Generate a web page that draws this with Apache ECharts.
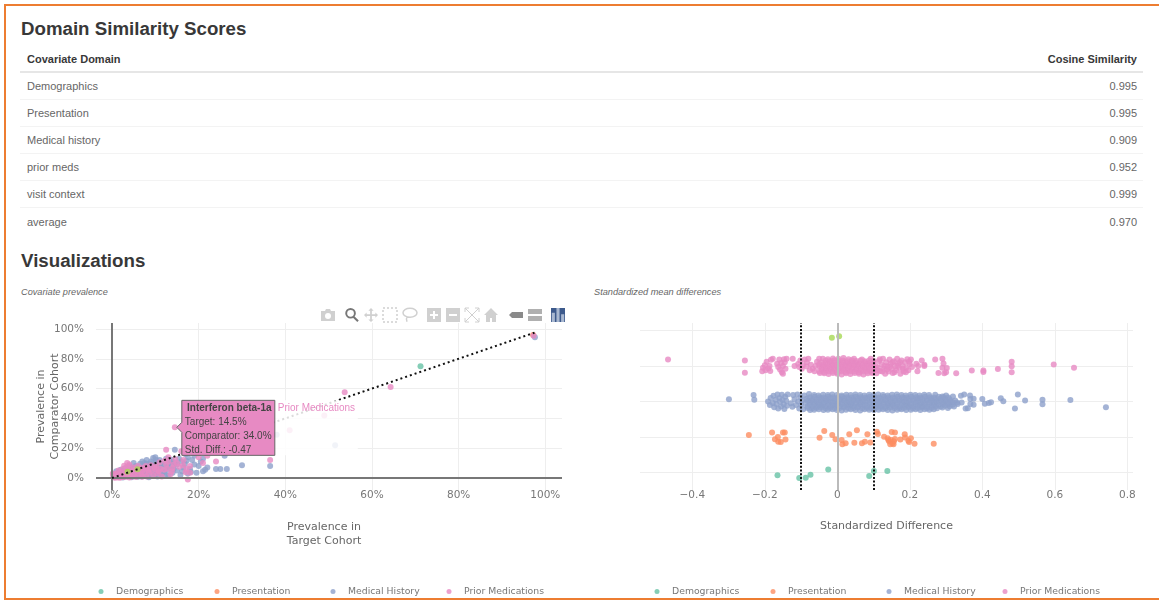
<!DOCTYPE html>
<html>
<head>
<meta charset="utf-8">
<title>Domain Similarity Scores</title>
<script src="https://cdn.jsdelivr.net/npm/echarts@6/dist/echarts.min.js"></script>
<style>
  html, body { margin: 0; padding: 0; width: 1159px; height: 602px; overflow: hidden; background: #fff; font-family: "Liberation Sans", Arial, sans-serif; }
  #frame { position: absolute; left: 4px; top: 4px; width: 1200px; height: 592px; border: 2px solid #ed7d31; }
  h2 { position: absolute; left: 21px; margin: 0; font-size: 18.7px; line-height: 24px; font-weight: bold; color: #383838; }
  #scoreTable { position: absolute; left: 20px; top: 46px; width: 1123px; border-collapse: collapse; font-size: 11px; color: #666; }
  #scoreTable th { height: 25px; padding: 0 6px 0 7px; color: #383838; border-bottom: 2px solid #e6e6e6; }
  #scoreTable td { height: 26.1px; padding: 0 6px 0 7px; border-bottom: 1px solid #f3f3f3; }
  #scoreTable tr:last-child td { border-bottom: 0; }
  .left { text-align: left; }
  .right { text-align: right; }
  .sub { position: absolute; top: 287px; font-size: 9.2px; line-height: 11px; font-style: italic; color: #666; }
  #main { position: absolute; left: 0; top: 0; width: 1159px; height: 602px; }
</style>
</head>
<body>
<div id="frame"></div>
<h2 style="top: 17px">Domain Similarity Scores</h2>
<table id="scoreTable"></table>
<h2 style="top: 249px">Visualizations</h2>
<div class="sub" style="left: 21px">Covariate prevalence</div>
<div class="sub" style="left: 594px">Standardized mean differences</div>
<div id="main"></div>

<script>
const domains = ["Demographics", "Presentation", "Medical history", "prior meds", "visit context", "average"];
const cosineScores = ["0.995", "0.995", "0.909", "0.952", "0.999", "0.970"];
const legendNames = ["Demographics", "Presentation", "Medical History", "Prior Medications"];

const prevalenceTicks = [0, 20, 40, 60, 80, 100];
const smdTicks = [-0.4, -0.2, 0, 0.2, 0.4, 0.6, 0.8];
const smdRows = [0, 1, 2, 3, 4];
const smdThresholds = [-0.1, 0.1];

// hovered covariate: target %, comparator %
const hoverPoint = [14.5, 34.0];
const hoverText = ["Interferon beta-1a", "Target: 14.5%", "Comparator: 34.0%", "Std. Diff.: -0.47"];

// left plot, [target %, comparator %]
const diagonalLine = [[0, 0], [97.5, 97.5]];
const prevDemographics = [[71.2, 75], [1, 1.2], [2.5, 1.5], [4.5, 3], [6.5, 7]];
const prevPresentation = [[1.5, 0.8], [2.5, 2], [3.5, 3.5], [5, 3.2], [6, 5], [7.5, 6], [9, 7.5], [11, 8], [97.2, 96]];
const prevVisit = [[3.6, 4.2], [5.9, 5.8]];
const prevMedical = [
  [97.6, 94.5], [51.5, 22], [38, 29], [36.5, 8], [30, 8.5], [26.5, 6], [26, 15], [25, 6], [24, 6], [23, 18],
  [22, 7], [21.5, 5.5], [21, 4.5], [20.5, 11], [20, 17], [19.5, 3.5], [19, 15], [19, 9], [18.5, 12], [18, 6],
  [17.5, 14], [17.5, 3], [17, 16], [16.5, 7], [16, 11], [15.5, 13], [15, 5], [14.5, 19], [14, 8], [14, 3.5],
  [13.5, 11], [13, 6], [13, 1.5], [12.5, 13], [12, 9], [12, 4], [11.5, 2], [11, 12], [11, 7], [10.5, 1],
  [10.5, 4.5], [10, 14], [10, 10], [9.5, 13.5], [9.5, 6], [9, 2.5], [9, 11], [8.5, 8], [8.5, 0.5], [8, 12],
  [8, 4], [7.5, 10], [7.5, 1.5], [7, 7], [7, 11], [6.5, 3], [6.5, 9.5], [6, 0.8], [6, 5.5], [5.5, 8],
  [5.5, 2], [5, 10], [5, 4.5], [4.5, 6.5], [4.5, 0.5], [4, 8], [4, 2.5], [3.5, 5], [3.5, 1], [3, 6.5],
  [3, 3], [2.5, 0.4], [2.5, 4.5], [2, 5.5], [2, 2], [1.5, 0.6], [1.5, 3.5], [1, 4.5], [1, 1.8], [0.6, 0.5],
  [0.5, 2.5], [11.5, 9.5], [12.8, 7.5], [9.8, 3.5], [8.2, 6], [15.8, 2], [14.5, 10.5], [6.8, 1], [7.8, 8.8], [10.8, 5.5],
  [18.2, 4], [20, 8], [21, 13], [16.8, 9.5], [13.7, 12.3], [5.2, 7], [3.8, 3.8], [4.8, 1.5], [2.2, 3.2], [8.8, 9.8],
  [13.2, 10], [12.2, 6.5], [10.2, 12], [9.2, 8.8], [8, 9.5], [7.2, 5.2], [6.2, 7.5], [5.2, 3.2], [4.2, 5.2], [3.2, 1.8],
  [6, 2.2], [7.4, 3.2], [8.8, 4.8], [10, 2], [11.2, 3.2], [12.5, 2.5], [14.2, 6], [15, 9], [16.2, 4.5], [17.2, 11.5]
];
const prevPrior = [
  [97.3, 95.5], [64.3, 61], [53.7, 57.5], [49, 42], [41, 32], [36.5, 12], [24, 11], [22, 15], [21, 10], [20, 14],
  [19, 18], [18, 8], [18, 3.5], [17.5, -1], [17, 3.8], [16.5, 12], [16, 18], [15, 10], [14.5, 34], [14, 6.5],
  [13.5, 2.5], [13, 14], [12.5, 19], [12.5, 9], [12, 5.5], [11.5, 1], [11, 10.5], [10.5, 3], [10, 6], [9.5, 1.8],
  [9, 8.5], [8.5, 3.5], [8, 1], [8, 6.5], [7.5, 3.5], [7, 5], [7, 0.8], [6.5, 6.5], [6, 3], [6, 8],
  [5.5, 0.6], [5.5, 4.5], [5, 2], [5, 7], [4.5, 4.2], [4.5, 1], [4, 6], [4, 9], [4, 0.4], [3.8, 3],
  [3.5, 10], [3.5, 7.5], [3.2, 1.8], [3, 4.5], [3, 0.6], [2.8, 8.2], [2.5, 2.8], [2.5, 6], [2, 0.5], [2, 4],
  [1.8, 1.6], [1.5, 5], [1.5, 2.6], [1.2, 0.4], [1, 3], [1, 1], [0.7, 2.2], [0.5, 0.3], [0.3, 1.5], [0.2, 3],
  [15.5, 7.5], [13.8, 4.5], [12.2, 11.5], [10.2, 8], [9.2, 4.8], [7.8, 8], [6.8, 2], [11.2, 6.2], [14.6, 12.5], [17.2, 6],
  [1.8, 0.2], [2.6, 0.8], [3.4, 3], [4.2, 2], [5.2, 5.5], [6.2, 4.5], [7.2, 6.8], [8.4, 5.2], [9.8, 7], [10.8, 4.5],
  [12.8, 6.2], [14.2, 9], [0.8, 0.4], [1.4, 1.4], [2.2, 1.2], [2.9, 3.6], [3.6, 2.2], [0.4, 0.8], [16.4, 8.5], [13, 11]
];

// right plot, [std. difference, row + jitter]
const smdVisit = [[-0.015, 3.79], [0.005, 3.83]];
const smdDemographics = [
  [-0.165, -0.07], [-0.105, -0.15], [-0.087, -0.14], [-0.074, -0.06], [-0.025, 0.09], [0.088, -0.09], [0.101, 0.05], [0.138, 0.05]
];
const smdPresentation = [
  [-0.244, 1.06], [-0.18, 1.13], [-0.172, 0.94], [-0.164, 1.0], [-0.163, 0.87], [-0.156, 0.86], [-0.15, 1.13], [-0.145, 1.13],
  [-0.143, 0.93], [-0.049, 0.98], [-0.036, 1.17], [-0.014, 1.06], [-0.005, 0.94], [0.012, 0.92], [0.014, 0.8], [0.023, 0.83],
  [0.033, 1.08], [0.047, 0.84], [0.054, 1.19], [0.068, 0.83], [0.076, 0.87], [0.083, 1.08], [0.091, 0.85], [0.109, 1.15],
  [0.112, 1.09], [0.129, 1.01], [0.141, 0.92], [0.15, 1.14], [0.159, 1.13], [0.139, 0.97], [0.143, 0.88], [0.148, 0.92],
  [0.152, 0.83], [0.156, 0.88], [0.159, 0.95], [0.155, 0.8], [0.146, 0.8], [0.174, 0.93], [0.186, 1.08], [0.187, 0.99],
  [0.196, 0.9], [0.198, 0.86], [0.203, 0.97], [0.213, 0.81], [0.266, 0.81]
];
const smdMedical = [
  [-0.299, 2.06], [-0.231, 2.18], [-0.229, 2.05], [0.319, 2.14], [0.341, 2.16], [0.35, 2.2], [0.343, 1.97], [0.366, 2.17],
  [0.367, 2.07], [0.376, 2.08], [0.367, 1.93], [0.376, 1.91], [0.354, 1.8], [0.36, 1.81], [0.4, 2.07], [0.407, 1.94],
  [0.418, 1.96], [0.424, 1.98], [0.451, 2.09], [0.458, 2.01], [0.498, 2.2], [0.49, 1.8], [0.518, 2.03], [0.566, 2.05],
  [0.566, 1.92], [0.643, 2.04], [0.741, 1.84],
  [-0.191, 2.0], [-0.186, 1.9], [-0.184, 2.1], [-0.178, 1.96], [-0.176, 2.16], [-0.174, 1.84], [-0.17, 2.05], [-0.168, 1.93],
  [-0.165, 2.2], [-0.163, 1.8], [-0.16, 2.1], [-0.158, 1.99], [-0.155, 1.86], [-0.153, 2.19], [-0.151, 2.04], [-0.148, 1.92],
  [-0.146, 1.79], [-0.144, 2.13], [-0.141, 2.02], [-0.139, 1.88], [-0.137, 2.2], [-0.128, 1.95], [-0.124, 1.85], [-0.122, 2.18],
  [-0.118, 2.06], [-0.114, 1.9], [-0.11, 2.2], [-0.108, 2.0], [-0.105, 1.8], [-0.102, 2.12], [-0.1, 1.9], [-0.097, 2.03],
  [-0.094, 1.78], [-0.091, 2.17], [-0.088, 1.96], [-0.085, 2.08], [-0.083, 1.86], [-0.078, 2.21],
  [-0.075, 1.76], [-0.064, 1.77], [-0.051, 1.78], [-0.038, 1.76], [-0.026, 1.77], [-0.013, 1.78], [-0.001, 1.76], [0.012, 1.75],
  [0.024, 1.77], [0.037, 1.78], [0.05, 1.76], [0.063, 1.75], [0.075, 1.78], [0.088, 1.77], [0.101, 1.76], [0.114, 1.77],
  [0.126, 1.78], [0.139, 1.76], [0.152, 1.75], [0.165, 1.77], [0.177, 1.78], [0.19, 1.76], [0.203, 1.77], [0.216, 1.78],
  [0.229, 1.76], [0.241, 1.78], [0.254, 1.77], [0.266, 1.78],
  [-0.07, 1.87], [-0.057, 1.86], [-0.044, 1.88], [-0.032, 1.87], [-0.019, 1.86], [-0.006, 1.88], [0.006, 1.87], [0.019, 1.86],
  [0.031, 1.89], [0.044, 1.87], [0.057, 1.86], [0.069, 1.88], [0.082, 1.87], [0.095, 1.86], [0.107, 1.88], [0.12, 1.87],
  [0.133, 1.86], [0.145, 1.89], [0.158, 1.87], [0.171, 1.86], [0.184, 1.88], [0.196, 1.87], [0.209, 1.86], [0.222, 1.88],
  [0.234, 1.87], [0.247, 1.86], [0.26, 1.88], [0.272, 1.87], [0.285, 1.86], [0.297, 1.88], [0.31, 1.87], [0.322, 1.86],
  [-0.076, 1.97], [-0.063, 1.98], [-0.05, 1.96], [-0.038, 1.97], [-0.025, 1.99], [-0.012, 1.97], [0.001, 1.96], [0.013, 1.98],
  [0.026, 1.97], [0.039, 1.96], [0.051, 1.98], [0.064, 1.97], [0.077, 1.99], [0.09, 1.97], [0.102, 1.96], [0.115, 1.98],
  [0.128, 1.97], [0.14, 1.96], [0.153, 1.98], [0.166, 1.97], [0.179, 1.99], [0.191, 1.97], [0.204, 1.96], [0.217, 1.98],
  [0.229, 1.97], [0.242, 1.96], [0.255, 1.98], [0.267, 1.97], [0.28, 1.99], [0.293, 1.97], [0.305, 1.96], [0.318, 1.98], [0.33, 1.97],
  [-0.07, 2.07], [-0.057, 2.06], [-0.044, 2.08], [-0.032, 2.07], [-0.019, 2.09], [-0.006, 2.07], [0.006, 2.06], [0.019, 2.08],
  [0.031, 2.07], [0.044, 2.06], [0.057, 2.08], [0.069, 2.07], [0.082, 2.09], [0.095, 2.07], [0.107, 2.06], [0.12, 2.08],
  [0.133, 2.07], [0.145, 2.06], [0.158, 2.08], [0.171, 2.07], [0.184, 2.09], [0.196, 2.07], [0.209, 2.06], [0.222, 2.08],
  [0.234, 2.07], [0.247, 2.06], [0.26, 2.08], [0.272, 2.07], [0.285, 2.09], [0.297, 2.07], [0.31, 2.06],
  [-0.064, 2.18], [-0.052, 2.17], [-0.039, 2.19], [-0.026, 2.18], [-0.014, 2.2], [-0.001, 2.18], [0.012, 2.17], [0.025, 2.19],
  [0.037, 2.18], [0.05, 2.2], [0.063, 2.18], [0.075, 2.17], [0.088, 2.19], [0.1, 2.18], [0.113, 2.2], [0.126, 2.18],
  [0.139, 2.17], [0.151, 2.19], [0.164, 2.2], [0.177, 2.18], [0.189, 2.17], [0.202, 2.19], [0.215, 2.18], [0.227, 2.17],
  [0.24, 2.19], [0.253, 2.18], [0.27, 2.19], [0.29, 2.14], [0.3, 2.17],
  [-0.082, 1.82], [-0.07, 1.81], [-0.058, 1.82], [-0.045, 1.83], [-0.032, 1.81], [-0.02, 1.82], [-0.007, 1.81], [0.006, 1.82],
  [0.018, 1.83], [0.031, 1.81], [0.044, 1.82], [0.056, 1.83], [0.069, 1.81], [0.082, 1.82], [0.094, 1.81], [0.107, 1.83],
  [0.12, 1.82], [0.133, 1.81], [0.145, 1.83], [0.158, 1.82], [0.171, 1.81], [0.183, 1.82], [0.196, 1.83], [0.209, 1.81],
  [0.222, 1.82], [0.234, 1.83], [0.247, 1.81], [0.26, 1.82], [0.275, 1.81], [0.29, 1.83], [0.305, 1.82],
  [-0.076, 1.92], [-0.063, 1.93], [-0.05, 1.91], [-0.038, 1.92], [-0.025, 1.93], [-0.012, 1.91], [0.0, 1.92], [0.013, 1.93],
  [0.026, 1.91], [0.038, 1.92], [0.051, 1.93], [0.064, 1.92], [0.076, 1.91], [0.089, 1.93], [0.102, 1.92], [0.115, 1.91],
  [0.127, 1.93], [0.14, 1.92], [0.153, 1.91], [0.165, 1.92], [0.178, 1.93], [0.191, 1.91], [0.203, 1.92], [0.216, 1.93],
  [0.229, 1.91], [0.241, 1.92], [0.254, 1.93], [0.267, 1.92], [0.279, 1.91], [0.292, 1.93], [0.305, 1.92], [0.318, 1.91], [0.332, 1.93],
  [-0.082, 2.02], [-0.07, 2.03], [-0.057, 2.01], [-0.044, 2.02], [-0.031, 2.03], [-0.019, 2.01], [-0.006, 2.02], [0.007, 2.03],
  [0.019, 2.02], [0.032, 2.01], [0.045, 2.03], [0.058, 2.02], [0.07, 2.01], [0.083, 2.02], [0.096, 2.03], [0.108, 2.01],
  [0.121, 2.02], [0.134, 2.03], [0.147, 2.01], [0.159, 2.02], [0.172, 2.03], [0.185, 2.01], [0.197, 2.02], [0.21, 2.03],
  [0.223, 2.02], [0.236, 2.01], [0.248, 2.03], [0.261, 2.02], [0.274, 2.01], [0.286, 2.03], [0.299, 2.02], [0.312, 2.01], [0.325, 2.03],
  [-0.076, 2.12], [-0.063, 2.13], [-0.05, 2.12], [-0.038, 2.11], [-0.025, 2.13], [-0.012, 2.12], [0.001, 2.11], [0.013, 2.13],
  [0.026, 2.12], [0.039, 2.11], [0.051, 2.13], [0.064, 2.12], [0.077, 2.11], [0.09, 2.13], [0.102, 2.12], [0.115, 2.11],
  [0.128, 2.13], [0.14, 2.12], [0.153, 2.11], [0.166, 2.13], [0.179, 2.12], [0.191, 2.11], [0.204, 2.13], [0.217, 2.12],
  [0.229, 2.11], [0.242, 2.13], [0.255, 2.12], [0.267, 2.11], [0.28, 2.13], [0.293, 2.12], [0.306, 2.11]
];
const smdPrior = [
  [-0.467, 3.18], [-0.255, 3.15], [-0.255, 2.81], [0.328, 2.79], [0.371, 2.87], [0.403, 2.87], [0.403, 2.83], [0.443, 2.91],
  [0.481, 3.12], [0.481, 2.99], [0.481, 2.82], [0.597, 3.04], [0.653, 2.95],
  [-0.207, 2.85], [-0.205, 2.95], [-0.2, 3.02], [-0.198, 2.88], [-0.195, 3.12], [-0.19, 2.93], [-0.187, 3.0], [-0.185, 2.86],
  [-0.183, 3.17], [-0.178, 3.2], [-0.166, 3.06], [-0.163, 2.97], [-0.16, 3.18], [-0.158, 2.9], [-0.155, 3.08], [-0.153, 2.82],
  [-0.15, 3.0], [-0.15, 2.78], [-0.147, 3.19], [-0.145, 3.1], [-0.143, 2.92], [-0.14, 3.2], [-0.123, 3.2], [-0.108, 3.05],
  [-0.105, 2.97], [-0.102, 3.15], [-0.098, 2.92], [-0.095, 3.02], [-0.09, 3.18], [-0.085, 2.98], [-0.084, 3.1], [-0.08, 3.2],
  [-0.073, 3.03], [-0.068, 2.92], [-0.063, 2.85], [-0.06, 3.0], [-0.056, 3.12], [-0.05, 3.2],
  [-0.048, 2.8], [-0.036, 2.79], [-0.024, 2.77], [-0.012, 2.8], [0.0, 2.78], [0.012, 2.76], [0.024, 2.79], [0.036, 2.77],
  [0.048, 2.8], [0.06, 2.78], [0.072, 2.76], [0.084, 2.79], [0.096, 2.8],
  [-0.043, 2.9], [-0.031, 2.88], [-0.019, 2.91], [-0.007, 2.89], [0.005, 2.87], [0.017, 2.9], [0.029, 2.88], [0.041, 2.92],
  [0.053, 2.89], [0.065, 2.87], [0.077, 2.9], [0.089, 2.88], [0.101, 2.91],
  [-0.05, 2.99], [-0.038, 3.0], [-0.026, 2.98], [-0.014, 3.01], [-0.002, 2.99], [0.01, 2.97], [0.022, 3.0], [0.034, 2.98],
  [0.046, 3.01], [0.058, 2.99], [0.07, 2.97], [0.082, 3.0], [0.094, 2.98],
  [-0.044, 3.1], [-0.032, 3.08], [-0.02, 3.11], [-0.008, 3.09], [0.004, 3.07], [0.016, 3.1], [0.028, 3.08], [0.04, 3.11],
  [0.052, 3.09], [0.064, 3.07], [0.076, 3.1], [0.088, 3.08], [0.1, 3.1],
  [-0.04, 3.2], [-0.026, 3.19], [-0.012, 3.21], [0.003, 3.2], [0.017, 3.22], [0.031, 3.19], [0.046, 3.2], [0.068, 3.18], [0.092, 3.2],
  [0.108, 2.79], [0.112, 2.95], [0.115, 3.14], [0.118, 2.86], [0.122, 3.04], [0.126, 3.2], [0.128, 2.92], [0.132, 2.78],
  [0.135, 3.1], [0.138, 2.99], [0.141, 2.84], [0.144, 3.18], [0.147, 3.05], [0.15, 2.92], [0.153, 2.8], [0.156, 3.13],
  [0.159, 3.0], [0.162, 2.88], [0.165, 3.2], [0.168, 3.07], [0.171, 2.94], [0.174, 2.78], [0.177, 3.15], [0.18, 3.0],
  [0.183, 2.84], [0.187, 3.1], [0.19, 2.95], [0.193, 3.19], [0.196, 2.88], [0.2, 3.05], [0.203, 3.18], [0.206, 2.97],
  [0.218, 3.06], [0.221, 2.85], [0.223, 3.0], [0.233, 3.15], [0.24, 3.0], [0.24, 3.03], [0.27, 3.18], [0.279, 2.8],
  [0.29, 3.2], [0.293, 3.07], [0.29, 2.95], [0.295, 2.79], [0.302, 2.94], [0.3, 2.82],
  [-0.05, 2.84], [-0.037, 2.83], [-0.025, 2.85], [-0.013, 2.84], [-0.001, 2.82], [0.011, 2.85], [0.023, 2.83], [0.035, 2.85],
  [0.047, 2.84], [0.059, 2.82], [0.071, 2.85], [0.083, 2.84], [0.095, 2.83],
  [-0.044, 2.95], [-0.032, 2.94], [-0.02, 2.96], [-0.008, 2.94], [0.004, 2.93], [0.016, 2.95], [0.028, 2.94], [0.04, 2.96],
  [0.052, 2.94], [0.064, 2.93], [0.076, 2.95], [0.088, 2.94], [0.1, 2.96],
  [-0.05, 3.05], [-0.038, 3.04], [-0.026, 3.06], [-0.014, 3.05], [-0.002, 3.03], [0.01, 3.06], [0.022, 3.04], [0.034, 3.05],
  [0.046, 3.06], [0.058, 3.04], [0.07, 3.03], [0.082, 3.05], [0.094, 3.04],
  [-0.032, 3.15], [-0.02, 3.14], [-0.008, 3.16], [0.004, 3.14], [0.016, 3.15], [0.028, 3.13], [0.04, 3.16], [0.052, 3.14],
  [0.064, 3.15], [0.076, 3.13], [0.088, 3.15], [0.1, 3.14],
  [0.106, 3.0], [0.11, 2.88], [0.117, 3.19], [0.124, 2.84], [0.13, 3.0], [0.137, 2.9], [0.145, 2.97], [0.152, 3.1],
  [0.158, 2.82], [0.166, 3.0], [0.173, 3.1], [0.181, 2.92], [0.189, 2.82], [0.198, 3.12], [-0.118, 3.0], [-0.076, 2.88]
];

const iconGrey = "#d0d0d0";
const modebarIcons = [
  [328, "M1 4h4l1-2h4l1 2h4v10H1z M8 6a3 3 0 1 0 0 6a3 3 0 0 0 0-6z", { fill: iconGrey }],
  [352, "M6.5 1a5.5 5.5 0 1 1 0 11a5.5 5.5 0 0 1 0-11z M6.5 3a3.5 3.5 0 1 0 0 7a3.5 3.5 0 0 0 0-7z M10.5 9.5l4.5 4.5l-1.5 1.5l-4.5-4.5z", { fill: "#777" }],
  [371, "M8 0l3 3H9v4h4V5l3 3l-3 3V9H9v4h2l-3 3l-3-3h2V9H3v2L0 8l3-3v2h4V3H5z", { fill: iconGrey }],
  [390, "M1 1h14v14H1z", { fill: "none", stroke: iconGrey, lineWidth: 1.5, lineDash: [2, 2] }],
  [410, "M8 2c4 0 7 2 7 4.5S12 11 8 11S1 9 1 6.5S4 2 8 2z M5 10.5c-1 2-1 3 0 5", { fill: "none", stroke: iconGrey, lineWidth: 1.5 }],
  [434, "M1 1h14v14H1z M7 4v3H4v2h3v3h2V9h3V7H9V4z", { fill: iconGrey }],
  [453, "M1 1h14v14H1z M4 7v2h8V7z", { fill: iconGrey }],
  [472, "M1 1l14 14M15 1L1 15M1 5V1h4M11 1h4v4M15 11v4h-4M5 15H1v-4", { fill: "none", stroke: iconGrey, lineWidth: 1 }],
  [491, "M8 1l7 7h-2v7H9v-4H7v4H3V8H1z", { fill: iconGrey }],
  [516, "M1 8l3-3h11v6H4z", { fill: "#8a8a8a" }],
  [535, "M1 2h14v5H1z M1 9h14v5H1z", { fill: "#b0b0b0" }],
  [558, "M0 0h16v16H0z", { fill: "#3d5a8c" }],
  [558, "M4 7h2v6H4z M7 4h2v9H7z M10 8h2v5h-2z", { fill: "#a9b8d0" }]
];

document.getElementById("scoreTable").innerHTML =
  '<tr><th class="left">Covariate Domain</th><th class="right">Cosine Similarity</th></tr>' +
  domains.map((d, i) => `<tr><td class="left">${d}</td><td class="right">${cosineScores[i]}</td></tr>`).join("");

const colors = { Demographics: "#66c2a5", Presentation: "#fc8d62", "Medical History": "#8da0cb", "Prior Medications": "#e78ac3", "Visit Context": "#a6d854" };
const tickFont = "DejaVu Sans";

function scatter(name, data, gridIndex) {
  return {
    name: name,
    type: "scatter",
    xAxisIndex: gridIndex,
    yAxisIndex: gridIndex,
    data: data,
    symbolSize: 6,
    itemStyle: { color: colors[name], opacity: 0.8 },
    clip: false,
    silent: true,
    z: 3
  };
}

// one legend per entry, plotly spaces them evenly whatever the text width
function legendsAt(left) {
  return legendNames.map((name, i) => ({
    left: left + i * 116,
    top: 582,
    data: [name],
    icon: "circle",
    itemWidth: 5,
    itemHeight: 5,
    selectedMode: false,
    textStyle: { color: "#777", fontFamily: tickFont, fontSize: 9.3, padding: [0, 0, 0, 7.5] }
  }));
}

function axisBase(ticks) {
  return {
    type: "value",
    axisLine: { show: false },
    axisTick: { show: false, customValues: ticks },
    splitLine: { show: true, lineStyle: { color: "#eee", width: 1 } }
  };
}

const option = {
  animation: false,
  grid: [
    { left: 96, top: 323, width: 466, height: 167 },
    { left: 640, top: 323, width: 493, height: 167 }
  ],
  xAxis: [
    Object.assign(axisBase(prevalenceTicks), {
      gridIndex: 0, min: -3.69, max: 103.85,
      axisLabel: { customValues: prevalenceTicks, formatter: "{value}%", color: "#777", fontFamily: tickFont, fontSize: 10.5, margin: 0 },
      name: "Prevalence in\nTarget Cohort",
      nameLocation: "middle",
      nameGap: 30,
      nameTextStyle: { color: "#666", fontFamily: tickFont, fontSize: 11, lineHeight: 14, padding: [0, 10, 0, 0] }
    }),
    Object.assign(axisBase(smdTicks), {
      gridIndex: 1, min: -0.5443, max: 0.8157,
      axisLabel: {
        customValues: smdTicks,
        formatter: (v) => String(v).replace("-", "\u2212"),
        color: "#777", fontFamily: tickFont, fontSize: 10.5, margin: 0
      },
      name: "Standardized Difference",
      nameLocation: "middle",
      nameGap: 31,
      nameTextStyle: { color: "#666", fontFamily: tickFont, fontSize: 11 }
    })
  ],
  yAxis: [
    Object.assign(axisBase(prevalenceTicks), {
      gridIndex: 0, min: -8.05, max: 104,
      axisLabel: { customValues: prevalenceTicks, formatter: "{value}%", color: "#777", fontFamily: tickFont, fontSize: 10.5, margin: 12 },
      name: "Prevalence in\nComparator Cohort",
      nameLocation: "middle",
      nameGap: 34,
      nameMoveOverlap: false,
      nameTextStyle: { color: "#666", fontFamily: tickFont, fontSize: 11, lineHeight: 14 }
    }),
    Object.assign(axisBase(smdRows), {
      gridIndex: 1, min: -0.486, max: 4.205,
      axisLabel: { show: false }
    })
  ],
  legend: legendsAt(93.5).concat(legendsAt(649.5)),
  series: [
    {
      type: "line", xAxisIndex: 0, yAxisIndex: 0, data: [], silent: true, z: 1,
      markLine: {
        silent: true, symbol: "none", label: { show: false }, animation: false,
        lineStyle: { color: "#777", width: 2, type: "solid" },
        data: [{ xAxis: 0 }, { yAxis: 0 }]
      }
    },
    {
      type: "line", xAxisIndex: 1, yAxisIndex: 1, data: [], silent: true, z: 1,
      markLine: {
        silent: true, symbol: "none", label: { show: false }, animation: false,
        lineStyle: { color: "#bbb", width: 2, type: "solid" },
        data: [{ xAxis: 0 }]
      }
    },
    scatter("Demographics", prevDemographics, 0),
    scatter("Presentation", prevPresentation, 0),
    scatter("Medical History", prevMedical, 0),
    scatter("Prior Medications", prevPrior, 0),
    scatter("Visit Context", prevVisit, 0),
    {
      type: "line", xAxisIndex: 0, yAxisIndex: 0, data: diagonalLine, silent: true, z: 5, symbol: "none",
      lineStyle: { color: "#111", width: 2, type: [2, 3] }
    },
    scatter("Demographics", smdDemographics, 1),
    scatter("Presentation", smdPresentation, 1),
    scatter("Medical History", smdMedical, 1),
    scatter("Prior Medications", smdPrior, 1),
    scatter("Visit Context", smdVisit, 1),
    {
      type: "line", xAxisIndex: 1, yAxisIndex: 1, data: [], silent: true, z: 5,
      markLine: {
        silent: true, symbol: "none", label: { show: false }, animation: false,
        lineStyle: { color: "#111", width: 2, type: [2, 1.7] },
        data: smdThresholds.map((t) => ({ xAxis: t }))
      }
    },
    {
      // plotly modebar icons
      type: "custom", coordinateSystem: "none", silent: true, z: 40,
      data: modebarIcons.map((m, i) => [i]),
      renderItem: (params) => {
        const m = modebarIcons[params.dataIndex];
        return {
          type: "path",
          shape: { pathData: m[1], layout: "center", x: m[0] - 7, y: 308, width: 14, height: 14 },
          style: m[2]
        };
      }
    }
  ]
};

const myChart = echarts.init(document.getElementById("main"));
myChart.setOption(option);

// static hover label, hung off the hovered point
const p = myChart.convertToPixel({ xAxisIndex: 0, yAxisIndex: 0 }, hoverPoint);
const boxX = p[0] + 7;
const boxY = p[1] - 27;
const boxW = 93;
const boxH = 55;
const hoverFont = "Liberation Sans";
myChart.setOption({
  graphic: [
    { type: "rect", z: 50, shape: { x: boxX + boxW, y: boxY, width: 83, height: boxH }, style: { fill: "rgba(255,255,255,0.85)" } },
    {
      type: "polygon", z: 51,
      shape: { points: [[p[0] + 2, p[1]], [boxX, p[1] - 5], [boxX, boxY], [boxX + boxW, boxY], [boxX + boxW, boxY + boxH], [boxX, boxY + boxH], [boxX, p[1] + 5]] },
      style: { fill: colors["Prior Medications"], stroke: "#666", lineWidth: 1 }
    },
    { type: "text", z: 52, style: { x: boxX + boxW / 2 + 1, y: boxY + 8, text: hoverText[0], align: "center", verticalAlign: "middle", fill: "#444", font: "bold 10px " + hoverFont } },
    { type: "text", z: 52, style: { x: boxX + 3, y: boxY + 22, text: hoverText[1], verticalAlign: "middle", fill: "#444", font: "10px " + hoverFont } },
    { type: "text", z: 52, style: { x: boxX + 3, y: boxY + 36, text: hoverText[2], verticalAlign: "middle", fill: "#444", font: "10px " + hoverFont } },
    { type: "text", z: 52, style: { x: boxX + 3, y: boxY + 50, text: hoverText[3], verticalAlign: "middle", fill: "#444", font: "10px " + hoverFont } },
    { type: "text", z: 52, style: { x: boxX + boxW + 3, y: boxY + 8, text: "Prior Medications", verticalAlign: "middle", fill: colors["Prior Medications"], font: "10px " + hoverFont } }
  ]
});
</script>
</body>
</html>
